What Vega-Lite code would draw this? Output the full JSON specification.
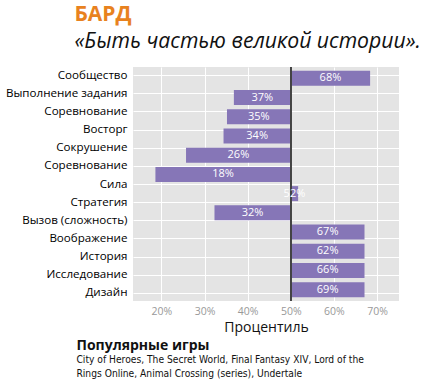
{
  "$schema": "https://vega.github.io/schema/vega-lite/v6.json",
  "background": "white",
  "padding": {"left": 5, "right": 5, "top": 4, "bottom": 0},
  "title": {
    "text": "БАРД",
    "subtitle": "«Быть частью великой истории».",
    "anchor": "start",
    "frame": "bounds",
    "dx": 69,
    "font": "Open Sans",
    "fontSize": 21,
    "fontWeight": "bold",
    "color": "#e8821e",
    "subtitleFont": "Open Sans",
    "subtitleFontSize": 21.2,
    "subtitleFontStyle": "italic",
    "subtitleColor": "#111111",
    "subtitlePadding": 6,
    "offset": 14
  },
  "datasets": {
    "labels": [
      {"key": "Сообщество"},
      {"key": "Выполнение задания"},
      {"key": "Соревнование"},
      {"key": "Восторг"},
      {"key": "Сокрушение"},
      {"key": "Соревнование|2"},
      {"key": "Сила"},
      {"key": "Стратегия"},
      {"key": "Вызов (сложность)"},
      {"key": "Воображение"},
      {"key": "История"},
      {"key": "Исследование"},
      {"key": "Дизайн"}
    ],
    "bars": [
      {"idx": 1, "value": 68.4, "label": "68%"},
      {"idx": 2, "value": 36.8, "label": "37%"},
      {"idx": 3, "value": 35.2, "label": "35%"},
      {"idx": 4, "value": 34.4, "label": "34%"},
      {"idx": 5, "value": 25.7, "label": "26%"},
      {"idx": 6, "value": 18.6, "label": "18%"},
      {"idx": 7, "value": 51.7, "label": "52%"},
      {"idx": 8, "value": 32.3, "label": "32%"},
      {"idx": 9, "value": 67.1, "label": "67%"},
      {"idx": 10, "value": 67.1, "label": "62%"},
      {"idx": 11, "value": 67.1, "label": "66%"},
      {"idx": 12, "value": 67.1, "label": "69%"}
    ]
  },
  "vconcat": [
    {
      "width": 266,
      "height": 234,
      "title": {
        "text": "Популярные игры",
        "subtitle": ["City of Heroes, The Secret World, Final Fantasy XIV, Lord of the", "Rings Online, Animal Crossing (series), Undertale"],
        "orient": "bottom",
        "anchor": "start",
        "frame": "bounds",
        "dx": 71,
        "font": "Open Sans",
        "fontSize": 14,
        "fontWeight": "bold",
        "color": "#111111",
        "subtitleFont": "DejaVu Sans Condensed, Liberation Sans",
        "subtitleFontSize": 10.2,
        "subtitleColor": "#111111",
        "subtitlePadding": 2,
        "subtitleLineHeight": 14,
        "offset": 4
      },
      "resolve": {"scale": {"y": "independent"}},
      "layer": [
        {
          "data": {"name": "labels"},
          "mark": {"type": "point", "opacity": 0},
          "encoding": {
            "y": {
              "field": "key",
              "type": "nominal",
              "sort": null,
              "scale": {"type": "point", "padding": 0.45},
              "axis": {
                "title": null,
                "labelExpr": "split(datum.value, '|')[0]",
                "grid": true,
                "gridColor": "white",
                "gridWidth": 1,
                "ticks": false,
                "domain": false,
                "labelFont": "Open Sans",
                "labelFontSize": 11.6,
                "labelColor": "#000000",
                "labelPadding": 6
              }
            }
          }
        },
        {
          "data": {"name": "bars"},
          "transform": [{"calculate": "(datum.value + 50) / 2", "as": "mid"}],
          "layer": [
            {
              "mark": {"type": "bar", "color": "#8676b7"},
              "encoding": {
                "y": {
                  "field": "idx",
                  "type": "ordinal",
                  "sort": null,
                  "scale": {"paddingInner": 0.22, "paddingOuter": 0.2},
                  "axis": null
                },
                "x": {
                  "field": "value",
                  "type": "quantitative",
                  "scale": {"domain": [13.4, 75.1], "nice": false, "zero": false},
                  "axis": {
                    "values": [20, 30, 40, 50, 60, 70],
                    "labelExpr": "datum.value + '%'",
                    "grid": true,
                    "gridColor": "white",
                    "ticks": false,
                    "domain": false,
                    "labelFont": "Open Sans",
                    "labelFontSize": 10.5,
                    "labelColor": "#999999",
                    "labelPadding": 5,
                    "title": "Процентиль",
                    "titleFont": "Open Sans",
                    "titleFontSize": 14,
                    "titleFontWeight": "normal",
                    "titleColor": "#111111",
                    "titlePadding": 4
                  }
                },
                "x2": {"datum": 50}
              }
            },
            {
              "mark": {"type": "rule", "color": "#444444", "strokeWidth": 1},
              "encoding": {"x": {"datum": 50}}
            },
            {
              "mark": {"type": "text", "color": "white", "font": "Open Sans", "fontSize": 11, "baseline": "middle", "align": "center"},
              "encoding": {
                "y": {"field": "idx", "type": "ordinal", "sort": null},
                "x": {"field": "mid", "type": "quantitative"},
                "text": {"field": "label"}
              }
            }
          ]
        }
      ]
    }
  ],
  "config": {
    "view": {"fill": "#e4e4e4", "stroke": null}
  }
}
